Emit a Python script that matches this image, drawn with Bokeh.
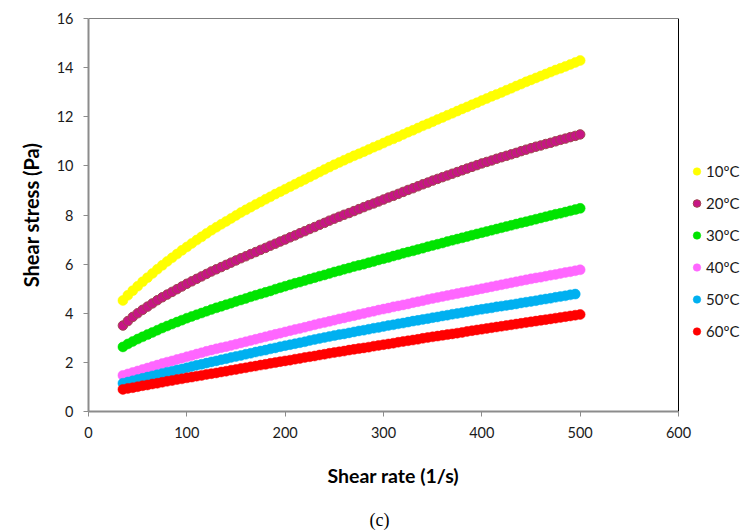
from bokeh.plotting import figure
from bokeh.models import Range1d, FixedTicker, Legend, LegendItem, Title, Span
from bokeh.embed import file_html
from bokeh.resources import INLINE

# Shear rate (1/s)
shear_rate = list(range(35, 505, 5))          # 35 ... 500
shear_rate_50 = list(range(35, 500, 5))       # 35 ... 495

series_names = ["10ºC", "20ºC", "30ºC", "40ºC", "50ºC", "60ºC"]

t10 = [4.52, 4.73, 4.92, 5.10,
       5.28, 5.45, 5.62, 5.79, 5.95,
       6.11, 6.26, 6.41, 6.56, 6.70,
       6.84, 6.98, 7.11, 7.25, 7.38,
       7.50, 7.62, 7.74, 7.86, 7.98,
       8.10, 8.21, 8.32, 8.43, 8.53, 8.64, 8.74, 8.85, 8.95, 9.05,
       9.15, 9.25, 9.35, 9.45, 9.55, 9.65, 9.75, 9.85, 9.95, 10.05,
       10.14, 10.23, 10.32, 10.41, 10.49, 10.58, 10.67, 10.76, 10.84, 10.93,
       11.02, 11.10, 11.19, 11.28, 11.37, 11.45, 11.54, 11.63, 11.71, 11.80,
       11.89, 11.97, 12.06, 12.14, 12.23, 12.32, 12.40, 12.49, 12.57, 12.66,
       12.74, 12.83, 12.91, 12.99, 13.08, 13.16, 13.25, 13.33, 13.42, 13.50,
       13.58, 13.66, 13.74, 13.82, 13.90, 13.97, 14.05, 14.13, 14.21, 14.29]

t20 = [3.50, 3.68, 3.85, 4.00,
       4.14, 4.27, 4.40, 4.53, 4.65,
       4.76, 4.87, 4.98, 5.09, 5.20,
       5.30, 5.40, 5.50, 5.60, 5.70,
       5.79, 5.88, 5.97, 6.06, 6.15,
       6.24, 6.32, 6.41, 6.49, 6.58, 6.66, 6.75, 6.83, 6.92, 7.00,
       7.09, 7.17, 7.26, 7.34, 7.43, 7.51, 7.60, 7.68, 7.77, 7.85,
       7.93, 8.01, 8.08, 8.16, 8.24, 8.32, 8.40, 8.47, 8.55, 8.63,
       8.71, 8.78, 8.86, 8.94, 9.02, 9.09, 9.17, 9.25, 9.32, 9.40,
       9.47, 9.54, 9.61, 9.68, 9.75, 9.82, 9.89, 9.96, 10.03, 10.10,
       10.16, 10.22, 10.29, 10.35, 10.41, 10.47, 10.53, 10.60, 10.66, 10.72,
       10.78, 10.83, 10.89, 10.94, 11.00, 11.06, 11.11, 11.17, 11.22, 11.28]

t30 = [2.63, 2.75, 2.85, 2.95,
       3.04, 3.13, 3.22, 3.31, 3.40,
       3.48, 3.56, 3.64, 3.72, 3.80,
       3.87, 3.94, 4.01, 4.08, 4.15,
       4.22, 4.28, 4.35, 4.41, 4.48,
       4.54, 4.60, 4.67, 4.73, 4.79, 4.85, 4.91, 4.98, 5.04, 5.10,
       5.16, 5.22, 5.27, 5.33, 5.39, 5.45, 5.51, 5.56, 5.62, 5.68,
       5.73, 5.79, 5.84, 5.90, 5.95, 6.00, 6.06, 6.11, 6.17, 6.22,
       6.27, 6.33, 6.38, 6.44, 6.49, 6.54, 6.60, 6.65, 6.71, 6.76,
       6.81, 6.86, 6.92, 6.97, 7.02, 7.07, 7.12, 7.18, 7.23, 7.28,
       7.33, 7.38, 7.43, 7.48, 7.53, 7.58, 7.63, 7.68, 7.73, 7.78,
       7.83, 7.88, 7.93, 7.98, 8.03, 8.07, 8.12, 8.17, 8.22, 8.27]

t40 = [1.47, 1.53, 1.59, 1.65,
       1.71, 1.77, 1.83, 1.89, 1.95,
       2.01, 2.06, 2.12, 2.17, 2.23,
       2.28, 2.34, 2.39, 2.45, 2.50,
       2.55, 2.60, 2.64, 2.69, 2.74,
       2.79, 2.84, 2.89, 2.94, 2.99, 3.04, 3.09, 3.14, 3.19, 3.24,
       3.29, 3.34, 3.38, 3.43, 3.48, 3.53, 3.58, 3.62, 3.67, 3.72,
       3.77, 3.81, 3.86, 3.90, 3.95, 3.99, 4.04, 4.08, 4.13, 4.17,
       4.21, 4.26, 4.30, 4.34, 4.38, 4.43, 4.47, 4.51, 4.56, 4.60,
       4.64, 4.68, 4.72, 4.76, 4.80, 4.84, 4.88, 4.92, 4.96, 5.00,
       5.04, 5.08, 5.12, 5.16, 5.20, 5.24, 5.28, 5.32, 5.36, 5.40,
       5.44, 5.47, 5.51, 5.55, 5.58, 5.62, 5.66, 5.69, 5.73, 5.77]

t50 = [1.15, 1.20, 1.25, 1.30,
       1.35, 1.40, 1.45, 1.50, 1.55,
       1.60, 1.64, 1.69, 1.73, 1.78,
       1.83, 1.88, 1.92, 1.97, 2.02,
       2.06, 2.11, 2.15, 2.20, 2.24,
       2.28, 2.33, 2.37, 2.42, 2.46, 2.50, 2.55, 2.59, 2.64, 2.68,
       2.72, 2.76, 2.80, 2.84, 2.89, 2.93, 2.97, 3.01, 3.05, 3.09,
       3.13, 3.16, 3.20, 3.24, 3.28, 3.31, 3.35, 3.39, 3.42, 3.46,
       3.50, 3.53, 3.57, 3.60, 3.64, 3.68, 3.71, 3.75, 3.78, 3.82,
       3.85, 3.89, 3.92, 3.96, 3.99, 4.02, 4.06, 4.09, 4.13, 4.16,
       4.19, 4.22, 4.26, 4.29, 4.32, 4.35, 4.38, 4.42, 4.45, 4.48,
       4.51, 4.55, 4.58, 4.61, 4.65, 4.68, 4.71, 4.75, 4.78]

t60 = [0.90, 0.94, 0.97, 1.01,
       1.05, 1.08, 1.12, 1.15, 1.19,
       1.23, 1.26, 1.30, 1.33, 1.37,
       1.40, 1.44, 1.47, 1.51, 1.54,
       1.57, 1.61, 1.64, 1.68, 1.71,
       1.75, 1.78, 1.82, 1.85, 1.89, 1.92, 1.96, 1.99, 2.03, 2.06,
       2.09, 2.13, 2.16, 2.20, 2.23, 2.26, 2.30, 2.33, 2.37, 2.40,
       2.43, 2.46, 2.50, 2.53, 2.56, 2.59, 2.62, 2.66, 2.69, 2.72,
       2.75, 2.78, 2.82, 2.85, 2.88, 2.91, 2.94, 2.98, 3.01, 3.04,
       3.07, 3.10, 3.13, 3.16, 3.19, 3.22, 3.26, 3.29, 3.32, 3.35,
       3.38, 3.41, 3.44, 3.47, 3.50, 3.53, 3.56, 3.59, 3.62, 3.65,
       3.68, 3.71, 3.74, 3.77, 3.80, 3.83, 3.86, 3.89, 3.92, 3.95]

x_ticks = [0, 100, 200, 300, 400, 500, 600]
y_ticks = [0, 2, 4, 6, 8, 10, 12, 14, 16]

fills = ["#FFFF00", "#C71585", "#00E400", "#FF66FF", "#00B0F0", "#FF0000"]
lines = ["#FFFF00", "#A0464E", "#00E400", "#FF66FF", "#00B0F0", "#FF0000"]

FONT = "Lato"

# layout: plot box spans 590 px for 0..600; the frame is widened to hold the legend
X_MAX = x_ticks[-1]
Y_MAX = y_ticks[-1]
BOX_PX = 590
LEFT_PX = 88
W = 744
x_end = X_MAX * (W - LEFT_PX) / BOX_PX

p = figure(width=W, height=532, output_backend="svg", toolbar_location=None,
           x_range=Range1d(0, x_end), y_range=Range1d(0, Y_MAX),
           min_border_left=LEFT_PX, min_border_right=0, min_border_top=18, min_border_bottom=121)

p.xgrid.visible = False
p.ygrid.visible = False
p.outline_line_color = None
p.background_fill_color = "white"
p.border_fill_color = "white"

# top and right edges of the plot box
p.add_layout(Span(location=X_MAX, dimension="height", line_color="#000000", line_width=1))
p.segment(x0=[0], y0=[Y_MAX], x1=[X_MAX], y1=[Y_MAX], line_color="#000000", line_width=1)

for ax in (p.xaxis[0], p.yaxis[0]):
    ax.axis_line_color = "#8C8C8C"
    ax.axis_line_width = 2
    ax.major_tick_line_color = "#8C8C8C"
    ax.major_tick_line_width = 1
    ax.major_tick_in = 0
    ax.major_tick_out = 5
    ax.minor_tick_line_color = None
    ax.major_label_text_font = FONT
    ax.major_label_text_font_size = "14.5px"
    ax.major_label_text_color = "#1a1a1a"
    ax.axis_label_text_font = FONT
    ax.axis_label_text_font_style = "bold"
    ax.axis_label_text_font_size = "20px"
    ax.axis_label_text_color = "#000000"

p.xaxis.bounds = (0, X_MAX)
p.xaxis.ticker = FixedTicker(ticks=x_ticks)
p.yaxis.ticker = FixedTicker(ticks=y_ticks)
p.yaxis.axis_label = "Shear stress (Pa)"
p.xaxis.major_label_standoff = 10
p.yaxis.major_label_standoff = 10
p.yaxis.axis_label_standoff = 11

xs = [shear_rate, shear_rate, shear_rate, shear_rate, shear_rate_50, shear_rate]
ys = [t10, t20, t30, t40, t50, t60]

renderers = []
for i in range(6):
    if i == 1:
        r = p.scatter(xs[i], ys[i], size=9.5, fill_color=fills[i], line_color=lines[i], line_width=1)
    else:
        r = p.scatter(xs[i], ys[i], size=10, fill_color=fills[i], line_color=lines[i], line_width=0.5)
    renderers.append(r)

legend = Legend(items=[LegendItem(label=series_names[i], renderers=[renderers[i]]) for i in range(6)],
                location=(599, 70), orientation="vertical",
                glyph_width=19, glyph_height=20, label_height=20, spacing=12,
                label_standoff=0, padding=0, margin=0,
                border_line_color=None, background_fill_alpha=0,
                label_text_font=FONT, label_text_font_size="15px", label_text_color="#1a1a1a")
p.add_layout(legend, "center")

p.add_layout(Title(text="Shear rate (1/s)", align="left", offset=239, standoff=42,
                   text_font=FONT, text_font_size="19.5px", text_font_style="bold",
                   text_color="#000000"), "below")
p.add_layout(Title(text="(c)", align="left", offset=281, standoff=1,
                   text_font="Liberation Serif", text_font_size="18px",
                   text_font_style="normal", text_color="#000000"), "below")

open("out.html", "w").write(file_html(p, INLINE))
